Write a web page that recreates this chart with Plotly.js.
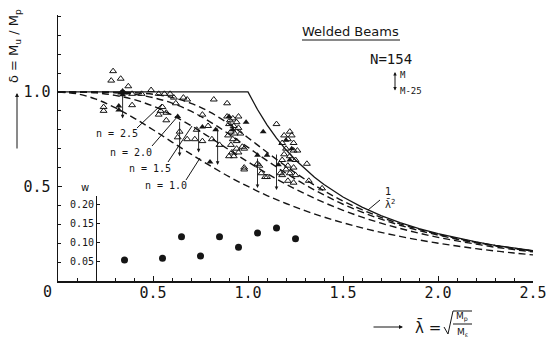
<!DOCTYPE html>
<html><head><meta charset="utf-8">
<script src="https://cdn.plot.ly/plotly-3.0.1.min.js"></script>
<style>html,body{margin:0;padding:0;background:#fff}#c{width:546px;height:341px}</style>
</head><body><div id="c"></div>
<script>
// ---- theoretical curves ----
const lamGrid = [0,0.1,0.2,0.3,0.4,0.5,0.6,0.7,0.8,0.9,1.0,1.1,1.2,1.3,1.4,1.5,1.6,1.7,1.8,1.9,2.0,2.1,2.2,2.3,2.4,2.5];
const curveN10 = [1,0.990,0.962,0.917,0.862,0.800,0.735,0.671,0.610,0.552,0.500,0.452,0.410,0.372,0.338,0.308,0.281,0.257,0.236,0.217,0.200,0.185,0.171,0.159,0.148,0.138];
const curveN15 = [1,0.999,0.995,0.982,0.960,0.925,0.878,0.822,0.759,0.694,0.630,0.569,0.512,0.461,0.415,0.374,0.338,0.306,0.278,0.253,0.231,0.212,0.195,0.179,0.166,0.154];
const curveN20 = [1,1.000,0.999,0.996,0.988,0.970,0.941,0.898,0.842,0.777,0.707,0.637,0.570,0.509,0.455,0.406,0.364,0.327,0.295,0.267,0.243,0.221,0.202,0.186,0.171,0.158];
const curveN25 = [1,1.000,1.000,0.999,0.996,0.988,0.971,0.940,0.893,0.831,0.758,0.681,0.607,0.538,0.477,0.423,0.377,0.337,0.302,0.273,0.247,0.225,0.205,0.188,0.173,0.159];
const solidLam = [0,1.0,1.05,1.1,1.15,1.2,1.25,1.3,1.35,1.4,1.45,1.5,1.6,1.7,1.8,1.9,2.0,2.1,2.2,2.3,2.4,2.5];
const solidDel = [1,1,0.907,0.826,0.756,0.694,0.640,0.592,0.549,0.510,0.476,0.444,0.391,0.346,0.309,0.277,0.250,0.227,0.207,0.189,0.174,0.160];

// ---- test results ----
const openLam = [0.29,0.28,0.33,0.37,0.39,0.44,0.49,0.53,0.56,0.59,0.61,0.66,0.68,0.24,0.24,0.39,0.54,0.55,0.57,0.53,0.57,0.62,0.76,0.82,0.89,0.63,0.64,0.68,0.72,0.73,0.81,0.85,0.79,0.76,0.95,
 0.89,0.905,0.92,0.94,0.90,0.925,0.95,0.91,0.93,0.96,0.895,0.92,0.94,0.91,0.94,0.915,0.95,0.925,0.90,0.97,
 0.98,0.98,1.06,1.07,1.10,1.05,1.09,1.17,0.98,1.15,1.22,
 1.19,1.23,1.21,1.18,1.24,1.20,1.24,1.19,1.22,1.25,1.18,1.21,1.24,1.20,1.22,1.25,1.21,1.24,1.18,1.26,
 1.31,1.32,1.39];
const openDel = [1.11,1.06,1.07,1.03,0.99,0.99,1.01,0.99,0.99,0.99,0.97,0.97,0.96,0.92,0.90,0.93,0.90,0.92,0.89,0.88,0.85,0.94,0.88,0.96,0.94,0.76,0.79,0.75,0.75,0.80,0.75,0.72,0.82,0.74,0.87,
 0.87,0.85,0.86,0.84,0.83,0.82,0.81,0.79,0.78,0.78,0.77,0.75,0.74,0.72,0.70,0.68,0.68,0.66,0.66,0.71,
 0.70,0.60,0.61,0.57,0.55,0.62,0.55,0.57,0.59,0.83,0.79,
 0.77,0.77,0.75,0.73,0.73,0.70,0.69,0.67,0.66,0.64,0.64,0.61,0.60,0.59,0.57,0.56,0.53,0.52,0.56,0.69,
 0.62,0.53,0.49];
const filledLam = [0.34,0.35,0.33,0.34,0.32,0.32,0.63,0.76,0.83,0.99,0.80,1.08,1.05,1.10,1.16,0.90,1.20,1.22,0.92,1.23];
const filledDel = [1.005,0.995,0.995,0.985,0.905,0.925,0.87,0.815,0.80,0.84,0.63,0.79,0.665,0.665,0.615,0.87,0.745,0.64,0.80,0.70];
const arrowLam = [0.34,0.64,0.74,0.84,1.05,1.15];
const arrowTop = [0.995,0.85,0.80,0.815,0.656,0.677];
const arrowBot = [0.86,0.66,0.68,0.614,0.492,0.481];

// ---- inset w ----
const wLam = [0.35,0.55,0.65,0.75,0.85,0.95,1.05,1.15,1.25];
const wVal = [0.055,0.060,0.116,0.066,0.116,0.089,0.126,0.139,0.111];

const xTickVals = [0.5,1.0,1.5,2.0,2.5];
const xTickText = ["0.5","1.0","1.5","2.0","2.5"];
const yTickVals = [0.5,1.0];
const yTickText = ["0.5","1.0"];
const wTickVals = [0.05,0.10,0.15,0.20];
const wTickText = ["0.05","0.10","0.15","0.20"];

const INK = '#151515';
const MONO = 'DejaVu Sans Mono, monospace';
const SANS = 'DejaVu Sans, sans-serif';
const L=58, R=533, T=15, B=281;
const PX = p => (p-L)/(R-L);
const PY = p => (B-p)/(B-T);

const dashed = {color:INK, width:1.4, dash:'7px,4px', shape:'spline'};
const traces = [
  {x:lamGrid, y:curveN10, mode:'lines', line:dashed, hoverinfo:'skip'},
  {x:lamGrid, y:curveN15, mode:'lines', line:dashed, hoverinfo:'skip'},
  {x:lamGrid, y:curveN20, mode:'lines', line:dashed, hoverinfo:'skip'},
  {x:lamGrid, y:curveN25, mode:'lines', line:dashed, hoverinfo:'skip'},
  {x:solidLam, y:solidDel, mode:'lines', line:{color:INK, width:1.3}},
  {x:openLam, y:openDel, mode:'markers', marker:{symbol:'triangle-up-open', size:6, color:INK, line:{width:1, color:INK}}},
  {x:filledLam, y:filledDel, mode:'markers', marker:{symbol:'triangle-up', size:6, color:INK}},
  {x:wLam, y:wVal, xaxis:'x', yaxis:'y2', mode:'markers', marker:{symbol:'circle', size:7, color:INK}}
];

const ann = [];
arrowLam.forEach((l,i)=>ann.push({x:l, y:arrowBot[i], ax:l, ay:arrowTop[i], xref:'x', yref:'y', axref:'x', ayref:'y',
  showarrow:true, arrowhead:2, arrowsize:0.8, arrowwidth:0.9, arrowcolor:INK, standoff:0, text:''}));
function txt(t, px, py, size, font, extra){
  return Object.assign({text:t, x:PX(px), y:PY(py), xref:'paper', yref:'paper', showarrow:false,
    xanchor:'center', yanchor:'middle', font:{size:size, family:font||SANS, color:INK}}, extra||{});
}
ann.push(txt('Welded Beams', 350, 31, 13, SANS));
ann.push(txt('N=154', 391, 59, 14, MONO));
ann.push(txt('M', 398, 75, 9, MONO, {xanchor:'left'}));
ann.push(txt('M-25', 398, 91, 9, MONO, {xanchor:'left'}));
ann.push({x:PX(395), y:PY(72), ax:PX(395), ay:PY(92), xref:'paper', yref:'paper', axref:'paper', ayref:'paper',
  showarrow:true, arrowhead:2, arrowside:'end+start', arrowsize:0.7, arrowwidth:1, arrowcolor:INK, text:'', standoff:0, startstandoff:0});
ann.push(txt('n = 2.5', 117, 133, 10, MONO));
ann.push(txt('n = 2.0', 131, 152, 10, MONO));
ann.push(txt('n = 1.5', 150, 168, 10, MONO));
ann.push(txt('n = 1.0', 166, 186, 10, MONO));
ann.push(txt('1', 388, 191, 10, SANS));
ann.push(txt('λ̄<sup>2</sup>', 390, 204, 10, SANS));
ann.push(txt('w', 85, 187, 10, SANS));
ann.push(txt('0', 47, 292, 15, MONO));
// y title
ann.push(txt('δ = M<sub>u</sub> / M<sub>p</sub>', 15, 46, 13, SANS, {textangle:-90}));
ann.push({x:PX(17), y:PY(93), xref:'paper', yref:'paper', ax:0, ay:57, showarrow:true, arrowhead:2,
  arrowsize:0.8, arrowwidth:1, arrowcolor:INK, text:'', standoff:0});
// x title
ann.push({x:PX(403), y:PY(327), xref:'paper', yref:'paper', ax:-31, ay:0, showarrow:true, arrowhead:2,
  arrowsize:0.8, arrowwidth:1, arrowcolor:INK, text:'', standoff:0});
ann.push(txt('λ̄ =', 428, 327, 15, SANS));
ann.push(txt('M<sub>p</sub>', 462, 317, 9, SANS));
ann.push(txt('M<sub>ε</sub>', 462, 332, 9, SANS));

function pline(x0,y0,x1,y1,w){
  return {type:'line', xref:'paper', yref:'paper', x0:PX(x0), y0:PY(y0), x1:PX(x1), y1:PY(y1), line:{color:INK, width:w||1}};
}
const shapes = [
  pline(302,40,400,40,1.2),
  pline(137,128,162,104),
  pline(152,146,178,116),
  pline(168,162,192,126),
  pline(186,180,200,158),
  pline(380,200,368,210),
  pline(453,324,472,324),
  {type:'path', xref:'paper', yref:'paper', line:{color:INK, width:1},
   path:'M'+PX(444)+','+PY(327)+' L'+PX(448)+','+PY(334)+' L'+PX(453)+','+PY(311)+' L'+PX(472)+','+PY(311)}
];

const layout = {
  width:546, height:341, margin:{l:L, r:546-R, t:T, b:341-B, pad:0},
  paper_bgcolor:'#fff', plot_bgcolor:'rgba(0,0,0,0)', showlegend:false,
  font:{family:MONO, color:INK},
  xaxis:{range:[0,2.5], tickmode:'array', tickvals:xTickVals, ticktext:xTickText, ticks:'inside', ticklen:5,
    tickcolor:INK, tickwidth:1, showline:true, linecolor:INK, linewidth:1.5, zeroline:false, showgrid:false,
    tickfont:{size:15, family:MONO, color:INK}, ticklabeloverflow:'allow', ticklabelstandoff:-3,
    minor:{tickmode:'linear', tick0:0, dtick:0.1, ticks:'inside', ticklen:3, tickcolor:INK, showgrid:false}},
  yaxis:{range:[0,1.407], tickmode:'array', tickvals:yTickVals, ticktext:yTickText, ticks:'inside', ticklen:4,
    tickcolor:INK, showline:true, linecolor:INK, linewidth:1.5, zeroline:false, showgrid:false,
    tickfont:{size:15, family:MONO, color:INK}, ticklabelstandoff:3,
    minor:{tickmode:'linear', tick0:0, dtick:0.1, ticks:'inside', ticklen:3, tickcolor:INK, showgrid:false}},
  yaxis2:{domain:[0,0.32], range:[0,0.2237], anchor:'free', position:PX(96), tickmode:'array', tickvals:wTickVals,
    ticktext:wTickText, ticks:'inside', ticklen:3, tickcolor:INK, showline:true, linecolor:INK, linewidth:1.3,
    zeroline:false, showgrid:false, tickfont:{size:10, family:MONO, color:INK}},
  annotations:ann, shapes:shapes
};
Plotly.newPlot('c', traces, layout, {staticPlot:true});
</script></body></html>
